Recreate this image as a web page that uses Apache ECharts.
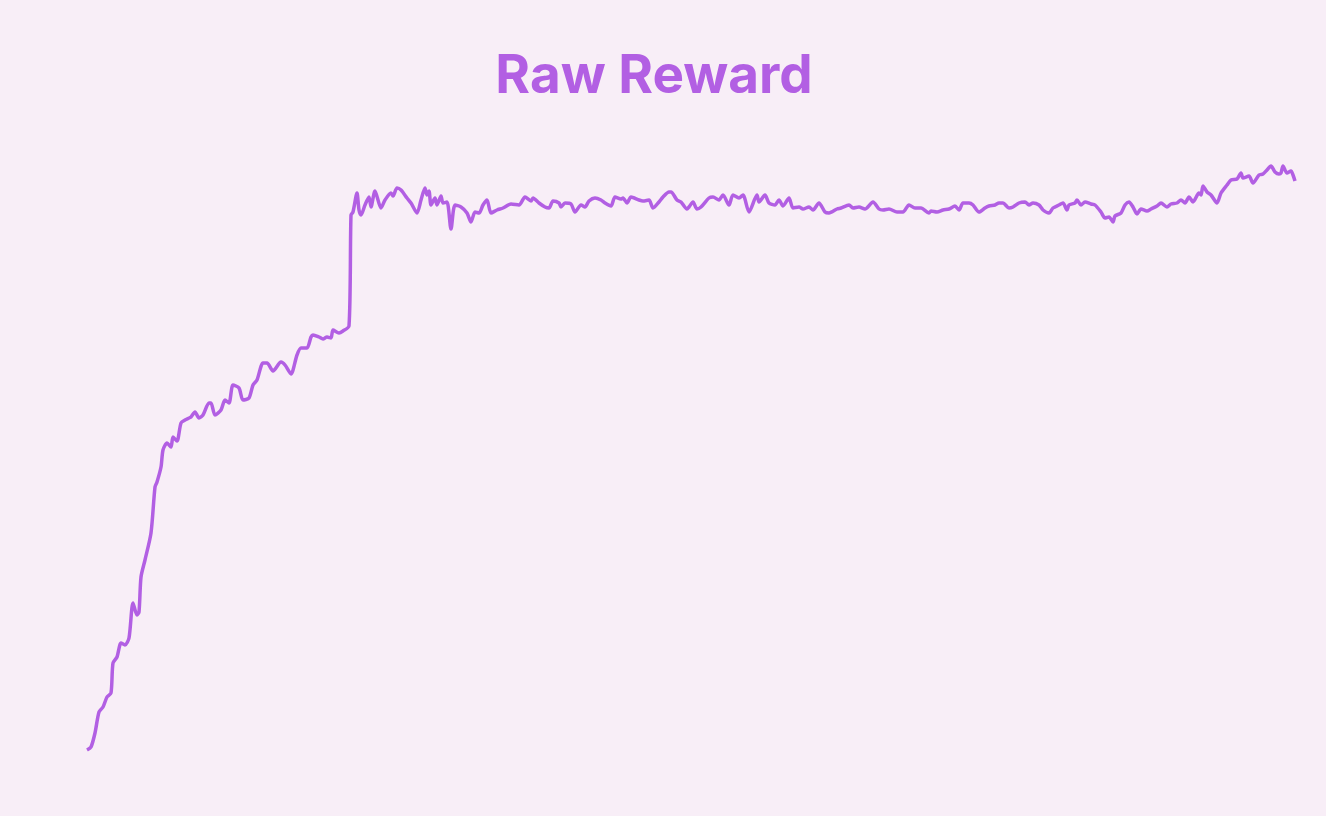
<!DOCTYPE html>
<html>
<head>
<meta charset="utf-8">
<script src="https://cdn.jsdelivr.net/npm/echarts@6/dist/echarts.min.js"></script>
<style>
html,body{margin:0;padding:0;background:#f8eef7;}
#chart{width:1326px;height:816px;}
</style>
</head>
<body>
<div id="chart"></div>
<script>
const titleText = "Raw Reward";
const steps = [0,2,4,6,8,10,12,13,15,17,19,21,23,25,26,27,29,32,34,35,37,38,40,42,43,45,47,49,51,52,54,56,58,61,62,64,67,69,71,73,76,78,81,83,85,88,90,93,97,99,102,105,107,110,112,113,116,118,120,122,123,126,128,131,
132,133,135,136,137,139,141,142,144,147,149,152,153,155,157,160,162,165,167,169,170,171,172,174,175,177,178,180,182,184,187,190,192,194,196,198,200,202,205,208,212,216,219,222,223,226,229,231,233,236,237,239,242,244,247,249,251,254,257,259,262,264,267,268,270,272,276,278,281,283,286,288,291,
292,295,297,300,301,303,305,307,311,313,316,318,321,323,326,328,331,335,336,339,341,344,346,348,351,353,356,358,361,363,366,369,371,375,377,381,383,386,389,393,396,398,401,405,408,411,414,417,421,422,425,428,431,434,436,438,441,443,446,
449,451,454,456,458,461,463,466,469,471,473,476,478,481,483,486,488,490,491,494,495,497,499,502,504,507,509,511,513,514,517,519,521,523,525,527,530,532,535,537,540,542,545,547,549,551,553,556,557,558,560,562,565,567,570,572,575,577,578,581,583,586,588,590,592,594,596,597,598,600,602,603,604];
const reward = [0.000,0.003,0.017,0.038,0.043,0.053,0.057,0.087,0.093,0.107,0.105,0.112,0.147,0.135,0.138,0.173,0.190,0.217,0.263,0.268,0.283,0.300,0.307,0.303,0.313,0.309,0.327,0.330,0.332,0.333,0.338,0.332,0.335,0.347,0.347,0.335,0.340,0.350,0.347,0.365,0.362,0.350,0.352,0.365,0.370,0.387,0.387,0.379,0.388,0.385,0.376,0.395,0.402,0.402,0.413,0.415,0.413,0.411,0.413,0.412,0.420,0.417,0.419,0.424,
0.535,0.538,0.557,0.540,0.535,0.545,0.553,0.543,0.559,0.542,0.550,0.557,0.554,0.562,0.560,0.552,0.547,0.537,0.550,0.562,0.555,0.559,0.545,0.552,0.545,0.554,0.547,0.548,0.521,0.545,0.543,0.537,0.528,0.538,0.537,0.545,0.550,0.537,0.540,0.542,0.546,0.545,0.553,0.549,0.552,0.547,0.543,0.542,0.549,0.547,0.543,0.547,0.546,0.538,0.545,0.543,0.549,0.552,0.550,0.547,0.544,0.553,0.551,0.552,0.547,0.553,0.550,0.549,0.550,0.542,0.548,0.553,0.558,
0.558,0.550,0.548,0.541,0.543,0.548,0.541,0.543,0.552,0.553,0.550,0.555,0.545,0.555,0.552,0.555,0.538,0.555,0.548,0.555,0.547,0.545,0.550,0.544,0.552,0.542,0.543,0.541,0.543,0.540,0.547,0.538,0.537,0.541,0.542,0.545,0.542,0.543,0.541,0.548,0.541,0.540,0.541,0.538,0.538,0.545,0.542,0.542,0.537,0.539,0.538,0.540,0.541,0.544,0.540,0.547,0.547,0.545,0.538,
0.542,0.544,0.545,0.547,0.547,0.542,0.543,0.547,0.548,0.545,0.547,0.545,0.540,0.537,0.542,0.545,0.547,0.540,0.545,0.547,0.550,0.545,0.548,0.546,0.545,0.538,0.532,0.533,0.528,0.534,0.537,0.545,0.548,0.543,0.536,0.541,0.539,0.541,0.544,0.547,0.543,0.546,0.547,0.550,0.547,0.553,0.548,0.557,0.555,0.564,0.558,0.555,0.547,0.557,0.565,0.570,0.571,0.577,0.572,0.574,0.567,0.575,0.576,0.580,0.584,0.578,0.576,0.577,0.584,0.577,0.579,0.575,0.569];

const data = steps.map((s, i) => [s, reward[i]]);
const chart = echarts.init(document.getElementById('chart'), null, {renderer: 'canvas'});
chart.setOption({
  backgroundColor: '#f8eef7',
  animation: false,
  title: {
    text: titleText,
    left: 649,
    top: 46,
    textAlign: 'center',
    textStyle: {
      fontFamily: 'Inter',
      fontWeight: 700,
      fontSize: 53,
      color: '#b25fe3'
    }
  },
  grid: {left: 87, right: 31, top: 150, bottom: 66},
  xAxis: {type: 'value', min: 0, max: 604, show: false},
  yAxis: {type: 'value', min: 0, max: 0.6, show: false},
  series: [{
    type: 'line',
    data: data,
    showSymbol: false,
    smooth: 0.25,
    lineStyle: {color: '#b25fe3', width: 3.5}
  }]
});
</script>
</body>
</html>
